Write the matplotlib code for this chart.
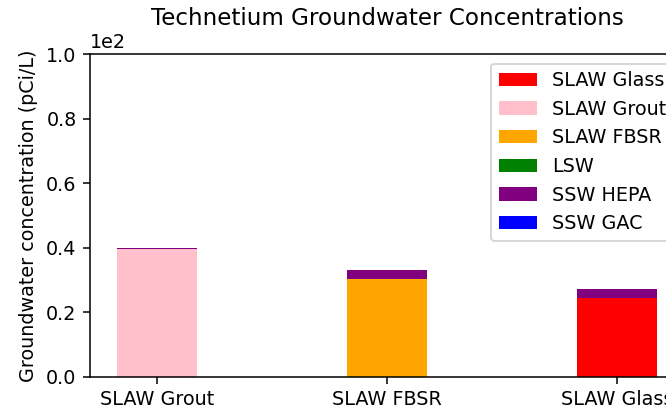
import numpy as np
import matplotlib
matplotlib.use("Agg")
import matplotlib.pyplot as plt

# cases along the x axis
cases = ["SLAW Grout", "SLAW FBSR", "SLAW Glass"]

# concentration contributions (pCi/L) per source, one value per case
slaw_glass = [0.0, 0.0, 24.5]
slaw_grout = [39.7, 0.0, 0.0]
slaw_fbsr = [0.0, 30.3, 0.0]
lsw = [0.0, 0.0, 0.0]
ssw_hepa = [0.3, 2.8, 2.7]
ssw_gac = [0.0, 0.0, 0.0]

dpi = 138
fig = plt.figure(figsize=(666 / dpi, 411 / dpi), dpi=dpi)
# axes runs past the right edge of the picture, like the reference crop
ax = fig.add_axes([90 / 666, 34 / 411, 594 / 666, 323 / 411])

x = np.arange(len(cases))
w = 0.35
bottom = np.zeros(len(cases))
series = [
    ("SLAW Glass", slaw_glass, "red"),
    ("SLAW Grout", slaw_grout, "pink"),
    ("SLAW FBSR", slaw_fbsr, "orange"),
    ("LSW", lsw, "green"),
    ("SSW HEPA", ssw_hepa, "purple"),
    ("SSW GAC", ssw_gac, "blue"),
]
for name, vals, col in series:
    ax.bar(x, vals, w, bottom=bottom, color=col, label=name)
    bottom += np.array(vals)

ax.set_xticks(x)
ax.set_xticklabels(cases)
ax.set_ylim(0, 100)
ax.ticklabel_format(axis="y", style="sci", scilimits=(0, 0))
ax.set_ylabel("Groundwater concentration (pCi/L)")
ax.set_title("Technetium Groundwater Concentrations", pad=15)
ax.legend(loc="upper right")

fig.savefig("out.png", dpi=dpi)
